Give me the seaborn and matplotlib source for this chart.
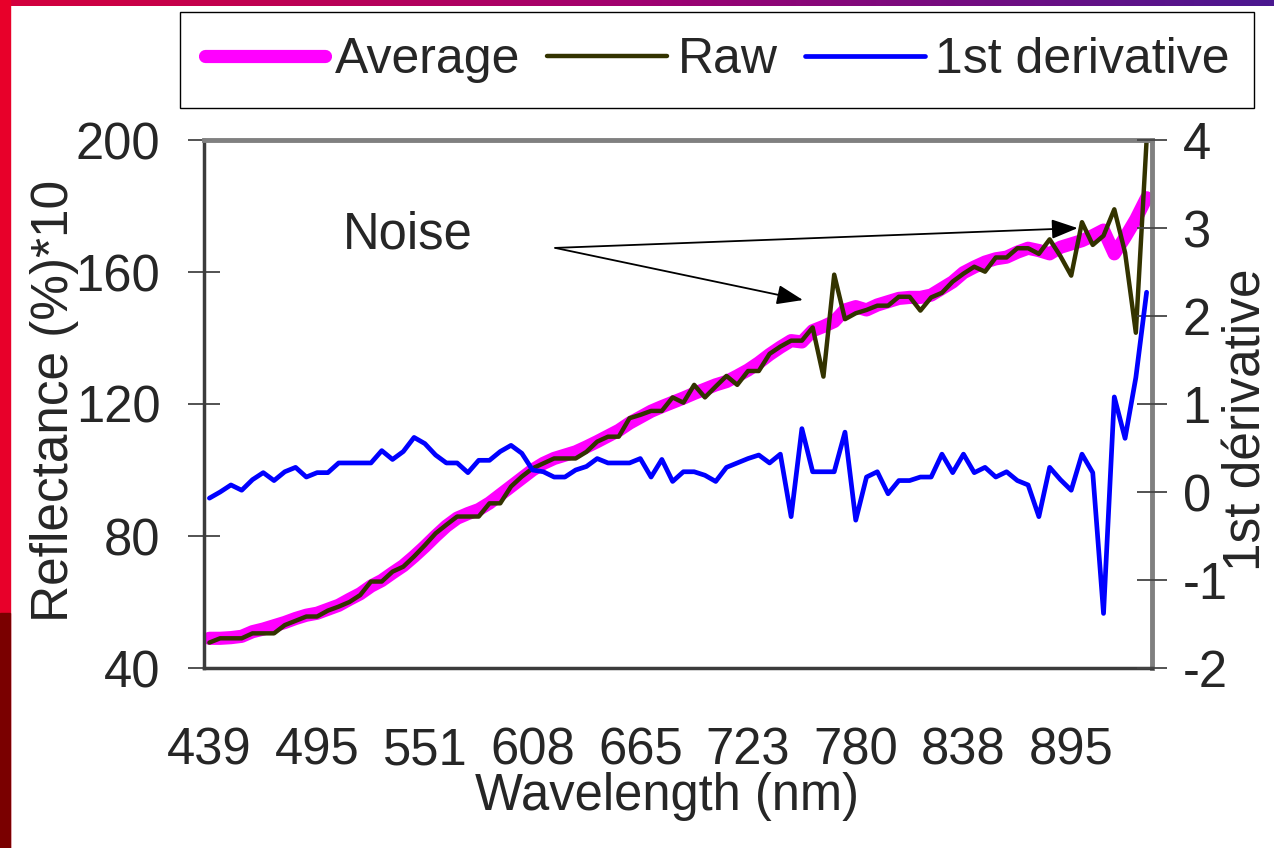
import numpy as np
import matplotlib
matplotlib.use("Agg")
import matplotlib.pyplot as plt
import seaborn as sns
from matplotlib.lines import Line2D
from matplotlib.patches import Rectangle
from matplotlib.colors import LinearSegmentedColormap

# wavelength labels shown on the category axis (every 10th band)
tick_labels = ["439", "495", "551", "608", "665", "723", "780", "838", "895"]

# averaged reflectance (%)*10, one value per band
average = [49.0, 49.0, 49.2, 49.6, 51.0, 51.8, 52.8, 53.8, 55.0, 56.0,
           56.6, 57.8, 59.0, 60.8, 62.5, 64.8, 66.5, 68.8, 71.0, 73.8,
           76.8, 80.0, 83.0, 85.4, 86.8, 88.0, 90.0, 92.5, 95.0, 97.5,
           100.0, 102.0, 103.5, 104.5, 105.5, 107.0, 108.6, 110.3, 112.0, 114.2,
           116.0, 117.8, 119.2, 120.5, 121.8, 123.2, 124.5, 125.8, 126.8, 128.5,
           130.3, 132.5, 135.0, 137.2, 139.2, 138.8, 142.2, 143.5, 145.0, 148.5,
           149.5, 148.5, 150.0, 151.0, 152.0, 152.3, 152.3, 153.0, 155.0, 157.0,
           159.8, 161.5, 163.0, 164.0, 164.5, 166.0, 167.2, 166.5, 165.5, 167.5,
           168.5, 169.5, 171.0, 172.7, 165.5, 170.5, 176.0, 182.5]

# raw reflectance (%)*10
raw = [47.7, 49.0, 49.0, 49.0, 50.5, 50.5, 50.5, 53.0, 54.3, 55.6,
       55.6, 57.4, 58.6, 60.0, 62.1, 66.2, 66.2, 69.2, 70.7, 73.8,
       77.2, 80.8, 83.4, 85.9, 85.9, 85.9, 89.9, 89.9, 95.0, 98.0,
       100.5, 102.0, 103.5, 103.5, 103.5, 105.5, 108.6, 110.1, 110.1, 115.7,
       116.7, 117.9, 117.9, 122.0, 120.4, 125.8, 122.0, 125.3, 128.5, 125.8,
       130.0, 130.0, 135.2, 137.4, 139.2, 139.2, 143.2, 128.3, 159.2, 145.7,
       147.5, 148.5, 149.8, 149.8, 152.5, 152.5, 148.3, 152.3, 153.7, 157.1,
       159.5, 161.6, 160.1, 164.4, 164.4, 167.2, 167.2, 165.5, 169.9, 164.8,
       158.9, 175.1, 168.2, 171.0, 179.0, 165.9, 141.6, 200.0]

# first derivative (right axis)
deriv = [-0.07, 0.00, 0.08, 0.02, 0.14, 0.22, 0.13, 0.23, 0.28, 0.17,
         0.22, 0.22, 0.33, 0.33, 0.33, 0.33, 0.47, 0.37, 0.46, 0.62,
         0.55, 0.42, 0.33, 0.33, 0.22, 0.36, 0.36, 0.46, 0.53, 0.44,
         0.25, 0.23, 0.17, 0.17, 0.25, 0.29, 0.38, 0.33, 0.33, 0.33,
         0.38, 0.17, 0.37, 0.12, 0.23, 0.23, 0.19, 0.12, 0.28, 0.33,
         0.38, 0.42, 0.33, 0.43, -0.28, 0.72, 0.23, 0.23, 0.23, 0.68,
         -0.32, 0.17, 0.23, -0.02, 0.13, 0.13, 0.17, 0.17, 0.43, 0.22,
         0.43, 0.22, 0.28, 0.17, 0.23, 0.13, 0.08, -0.28, 0.28, 0.14,
         0.02, 0.43, 0.22, -1.38, 1.08, 0.61, 1.30, 2.27]

band = np.arange(len(raw))

sns.set_style("white")
plt.rcParams["font.family"] = ["Liberation Sans", "DejaVu Sans"]
plt.rcParams["axes.unicode_minus"] = False

MAGENTA = "#ff00ff"
OLIVE = "#333300"
BLUE = "#0000ff"
FS = 36.5

fig = plt.figure(figsize=(12.74, 8.48), dpi=100)

# slide decoration: red strip on the left, gradient band on top
fig.patches.append(Rectangle((0, 0), 10 / 1274, 1, transform=fig.transFigure,
                             color="#e8002a", zorder=0))
fig.patches.append(Rectangle((0, 0), 10 / 1274, 235 / 848, transform=fig.transFigure,
                             color="#7a0000", zorder=0))
gax = fig.add_axes([0, 1 - 6 / 848, 1, 6 / 848])
grad_cmap = LinearSegmentedColormap.from_list("band", ["#d4003c", "#a00070", "#4a1890"])
gax.imshow(np.linspace(0, 1, 256)[None, :], aspect="auto", cmap=grad_cmap)
gax.axis("off")

ax = fig.add_axes([204 / 1274, 1 - 668 / 848, 948 / 1274, 528 / 848])
ax2 = ax.twinx()

sns.lineplot(x=band, y=average, ax=ax, color=MAGENTA, linewidth=9.5,
             solid_capstyle="round", solid_joinstyle="round")
sns.lineplot(x=band, y=raw, ax=ax, color=OLIVE, linewidth=3.2)
sns.lineplot(x=band, y=deriv, ax=ax2, color=BLUE, linewidth=3.4)

ax.set_xlim(-0.5, len(raw) - 0.5)
ax.set_ylim(40, 200)
ax.set_yticks([40, 80, 120, 160, 200])
ax2.set_ylim(-2, 4)
ax2.set_yticks([-2, -1, 0, 1, 2, 3, 4])

# category axis: labels on every 10th band, tick marks between bands
ax.set_xticks(band[::10])
ax.set_xticklabels(tick_labels)
ax.set_xticks(np.arange(-0.5, len(raw) - 1, 10), minor=True)
ax.tick_params(axis="x", which="major", length=0, pad=42, labelsize=FS)
ax.tick_params(axis="x", which="minor", direction="inout", length=26,
               width=1.3, color="black")
ax.tick_params(axis="y", which="major", direction="inout", length=23,
               width=1.3, color="#444444", labelsize=FS, pad=20)
ax2.tick_params(axis="y", which="major", direction="inout", length=22,
                width=1.3, color="#444444", labelsize=FS, pad=11)

ax.set_xlabel("Wavelength (nm)", fontsize=FS, va="center")
ax.xaxis.set_label_coords(0.488, -0.243)
ax.set_ylabel("Reflectance (%)*10", fontsize=37, va="center")
ax.yaxis.set_label_coords(-0.158, 0.505)
ax2.set_ylabel("1st dérivative", fontsize=37, rotation=90, va="center")
ax2.yaxis.set_label_coords(1.1, 0.47)

for side in ["top", "right"]:
    ax.spines[side].set_color("#808080")
    ax.spines[side].set_linewidth(3.5)
for side in ["left", "bottom"]:
    ax.spines[side].set_color("#3c3c3c")
    ax.spines[side].set_linewidth(2.5)
for side in ax2.spines:
    ax2.spines[side].set_visible(False)

# noise annotation
ax.text(18.4, 171.2, "Noise", fontsize=FS, ha="center", va="center")
arrow = dict(arrowstyle="-|>,head_length=0.8,head_width=0.3", color="black",
             lw=1.3, mutation_scale=20, shrinkA=0, shrinkB=0)
ax.annotate("", xy=(55.1, 151.5), xytext=(32.1, 167.3), arrowprops=arrow)
ax.annotate("", xy=(80.6, 173.3), xytext=(32.1, 167.3), arrowprops=arrow)

handles = [
    Line2D([], [], color=MAGENTA, linewidth=9.5, solid_capstyle="round"),
    Line2D([], [], color=OLIVE, linewidth=3.2),
    Line2D([], [], color=BLUE, linewidth=3.4),
]
fig.legend(handles, ["Average", "Raw", "1st derivative"], loc="center",
           bbox_to_anchor=(717 / 1274, 1 - 60 / 848), ncol=3, frameon=True,
           fancybox=False, framealpha=1, edgecolor="black", fontsize=36,
           handlelength=2.4, handletextpad=0.2, columnspacing=0.55,
           borderpad=0.5)

fig.savefig("out.png", dpi=100)
